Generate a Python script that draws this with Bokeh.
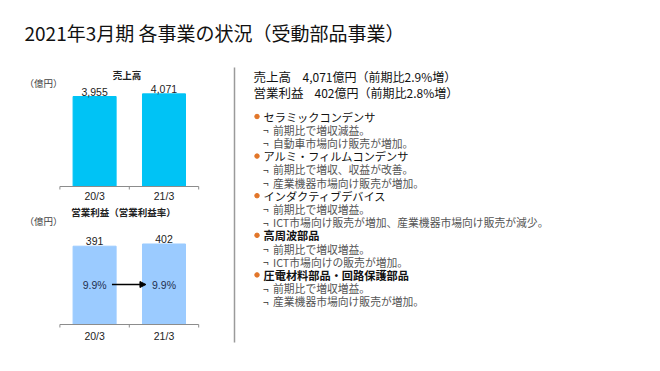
from bokeh.plotting import figure
from bokeh.models import Range1d, ColumnDataSource, Arrow, NormalHead
from bokeh.core.properties import value
from bokeh.embed import file_html
from bokeh.resources import INLINE

# ---------------- data ----------------
title_text = "2021年3月期 各事業の状況（受動部品事業）"
periods = ["20/3", "21/3"]
sales = [3955, 4071]            # 売上高（億円）
op_income = [391, 402]          # 営業利益（億円）
op_margin = [9.9, 9.9]          # 営業利益率（%）
unit_label = "（億円）"
sales_title = "売上高"
op_title = "営業利益（営業利益率）"

segments = [
    "セラミックコンデンサ",
    "アルミ・フィルムコンデンサ",
    "インダクティブデバイス",
    "高周波部品",
    "圧電材料部品・回路保護部品",
]
segment_notes = [
    ["前期比で増収減益。", "自動車市場向け販売が増加。"],
    ["前期比で増収、収益が改善。", "産業機器市場向け販売が増加。"],
    ["前期比で増収増益。", "ICT市場向け販売が増加、産業機器市場向け販売が減少。"],
    ["前期比で増収増益。", "ICT市場向けの販売が増加。"],
    ["前期比で増収増益。", "産業機器市場向け販売が増加。"],
]
bold_segments = [False, False, False, True, True]

JP = value("Noto Sans CJK JP")
NUM = value("Liberation Sans")

OX, OY = 0, 0          # page origin of the figure (in screenshot pixels)
W, H = 652, 363
p = figure(width=W, height=H, output_backend="svg", toolbar_location=None,
           x_range=Range1d(OX, OX + W), y_range=Range1d(OY + H, OY),
           min_border=0, outline_line_color=None, background_fill_color="white",
           border_fill_color="white")
p.axis.visible = False
p.grid.visible = False

# ---------- scales for the two bar charts ----------
x_ppu = 69.4
x0_px = 94.1
p.extra_x_ranges = {"cat": Range1d(-(x0_px - OX) / x_ppu, -(x0_px - OX) / x_ppu + W / x_ppu)}

s_base, s_ppu = 186.0, 90.0 / 3955
o_base, o_ppu = 324.0, 78.3 / 391
p.extra_y_ranges = {
    "sales": Range1d(-(OY + H - s_base) / s_ppu, (s_base - OY) / s_ppu),
    "op": Range1d(-(OY + H - o_base) / o_ppu, (o_base - OY) / o_ppu),
}

xs = list(range(len(periods)))
src = ColumnDataSource(dict(
    x=xs, period=periods, sales=sales, op=op_income,
    sales_lbl=[f"{v:,}" for v in sales], op_lbl=[f"{v:,}" for v in op_income],
    margin_lbl=[f"{m:.1f}%" for m in op_margin],
))

bar_w = 0.62
p.vbar(x="x", top="sales", bottom=0, width=bar_w, source=src, color="#00C3F5",
       x_range_name="cat", y_range_name="sales")
p.vbar(x="x", top="op", bottom=0, width=bar_w, source=src, color="#9BCBFF",
       x_range_name="cat", y_range_name="op")

# axis lines + ticks
for rng, ppu in (("sales", s_ppu), ("op", o_ppu)):
    p.segment(x0=[-0.5], y0=[0], x1=[len(periods) - 0.5], y1=[0], line_color="#8C8C8C",
              line_width=1, x_range_name="cat", y_range_name=rng)
    tx = [i - 0.5 for i in range(len(periods) + 1)]
    p.segment(x0=tx, y0=[0] * len(tx), x1=tx, y1=[-3 / ppu] * len(tx), line_color="#8C8C8C",
              line_width=1, x_range_name="cat", y_range_name=rng)

# value labels
p.text(x="x", y="sales", text="sales_lbl", source=src, x_range_name="cat", y_range_name="sales",
       text_font=NUM, text_font_size="10.5px", text_align="center", text_baseline="bottom",
       y_offset=-1, text_color="#222222")
p.text(x="x", y="op", text="op_lbl", source=src, x_range_name="cat", y_range_name="op",
       text_font=NUM, text_font_size="10.5px", text_align="center", text_baseline="bottom",
       y_offset=-1, text_color="#222222")
# category labels
p.text(x="x", y=-9 / s_ppu, text="period", source=src, x_range_name="cat", y_range_name="sales",
       text_font=NUM, text_font_size="10.5px", text_align="center", text_baseline="middle",
       text_color="#222222")
p.text(x="x", y=-11 / o_ppu, text="period", source=src, x_range_name="cat", y_range_name="op",
       text_font=NUM, text_font_size="10.5px", text_align="center", text_baseline="middle",
       text_color="#222222")
# margin labels
p.text(x="x", y=40 / o_ppu, text="margin_lbl", source=src, x_range_name="cat", y_range_name="op",
       text_font=NUM, text_font_size="10.5px", text_align="center", text_baseline="middle",
       text_color="#1F3050")
p.add_layout(Arrow(x_start=0 + bar_w / 2 - 0.06, y_start=40 / o_ppu, x_end=1 - bar_w / 2 + 0.05,
                   y_end=40 / o_ppu, x_range_name="cat", y_range_name="op",
                   line_color="black", line_width=1.3,
                   end=NormalHead(size=6, fill_color="black", line_color="black")))

# chart titles and units
p.text(x=[126.5], y=[74], text=[sales_title], text_font=JP, text_font_size="9.5px",
       text_font_style="bold", text_align="center", text_baseline="middle", text_color="#222222")
p.text(x=[123], y=[211], text=[op_title], text_font=JP, text_font_size="9.5px",
       text_font_style="bold", text_align="center", text_baseline="middle", text_color="#222222")
for yy in (82, 220):
    p.text(x=[24], y=[yy], text=[unit_label], text_font=JP, text_font_size="9.5px",
           text_align="left", text_baseline="middle", text_color="#444444")

# page title
p.text(x=[24], y=[31.5], text=[title_text], text_font=JP, text_font_size="19px",
       text_align="left", text_baseline="middle", text_color="#111111")

# divider
p.segment(x0=[234], y0=[67], x1=[234], y1=[342], line_color="#9A9A9A", line_width=1.5)

# right header
growth_s = (sales[-1] / sales[-2] - 1) * 100
growth_o = (op_income[-1] / op_income[-2] - 1) * 100
p.text(x=[253, 253], y=[76, 91.5], text=["売上高", "営業利益"], text_font=JP, text_font_size="12.5px",
       text_align="left", text_baseline="middle", text_color="#111111")
p.text(x=[302, 314], y=[76, 91.5],
       text=[f"{sales[-1]:,}億円（前期比{growth_s:.1f}%増）", f"{op_income[-1]:,}億円（前期比{growth_o:.1f}%増）"],
       text_font=JP, text_font_size="12px", text_align="left", text_baseline="middle",
       text_color="#111111")

# bullet list
y = 116.0
step = 13.2
for seg, notes, bold in zip(segments, segment_notes, bold_segments):
    p.scatter(x=[256.5], y=[y], size=4.5, marker="circle", color="#E2762A")
    p.text(x=[263], y=[y], text=[seg], text_font=JP, text_font_size="11.2px",
           text_font_style="bold" if bold else "normal",
           text_align="left", text_baseline="middle", text_color="#111111")
    y += step
    for n in notes:
        p.text(x=[262.5], y=[y], text=["¬"], text_font=JP, text_font_size="10px",
               text_align="left", text_baseline="middle", text_color="#333333")
        p.text(x=[272.5], y=[y], text=[n], text_font=JP, text_font_size="10.8px",
               text_align="left", text_baseline="middle", text_color="#555555")
        y += step

open("out.html", "w").write(file_html(p, INLINE))
